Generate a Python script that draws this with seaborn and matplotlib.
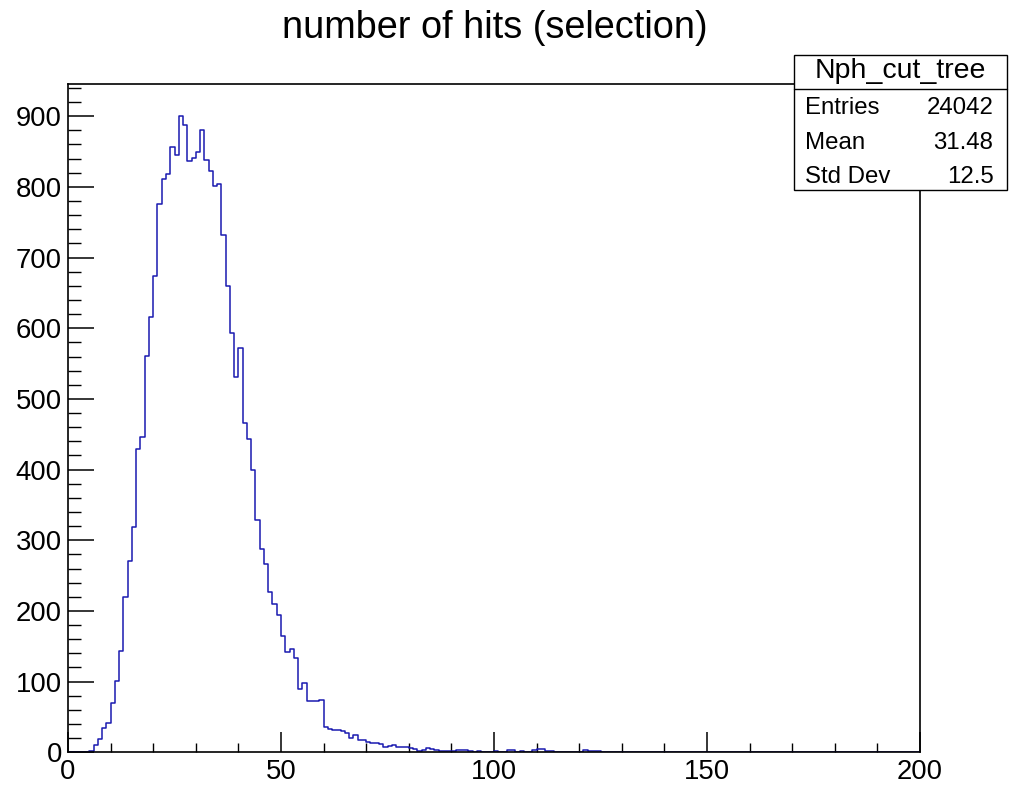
import numpy as np
import matplotlib
matplotlib.use("Agg")
import matplotlib.pyplot as plt
import seaborn as sns
from matplotlib.ticker import MultipleLocator
from matplotlib.patches import Rectangle
from matplotlib.lines import Line2D

# ---- data ----
bin_edges = list(range(0, 201))
counts = [
    0, 0, 0, 0, 0, 2, 10, 19, 34, 42,
    70, 101, 143, 220, 271, 319, 429, 446, 561, 616,
    674, 776, 811, 818, 857, 845, 901, 887, 836, 841,
    850, 880, 838, 823, 801, 804, 732, 660, 593, 531,
    572, 466, 444, 400, 328, 287, 267, 227, 210, 194,
    164, 142, 146, 134, 90, 98, 73, 72, 73, 74,
    36, 33, 31, 32, 30, 28, 20, 25, 18, 17,
    15, 13, 13, 12, 8, 9, 11, 8, 7, 7,
    6, 5, 2, 3, 6, 4, 3, 2, 2, 2,
    2, 3, 3, 3, 2, 1, 2, 1, 1, 1,
    2, 1, 1, 3, 3, 1, 2, 1, 1, 3,
    4, 4, 2, 2, 1, 0, 1, 1, 1, 1,
    0, 3, 2, 2, 2, 0, 0, 1, 1, 1,
    0, 1, 1, 1, 1, 1, 1, 0, 0, 1,
    1, 1, 0, 0, 0, 0, 1, 0, 0, 0,
    0, 1, 1, 1, 1, 1, 1, 1, 1, 1,
    0, 0, 0, 0, 0, 1, 0, 0, 1, 0,
    0, 0, 0, 0, 0, 0, 0, 0, 1, 1,
    0, 1, 1, 0, 1, 1, 1, 0, 0, 0,
    0, 0, 0, 0, 0, 0, 0, 0, 0, 0,
]
bin_centers = [e + 0.5 for e in bin_edges[:-1]]

title = "number of hits (selection)"
stats_name = "Nph_cut_tree"
stats_labels = ["Entries", "Mean", "Std Dev"]
stats_values = ["24042", "31.48", "12.5"]

# ---- style ----
sns.set_theme(style="ticks")
plt.rcParams['font.family'] = ['Liberation Sans', 'DejaVu Sans']
plt.rcParams['axes.edgecolor'] = 'black'
plt.rcParams['xtick.color'] = 'black'
plt.rcParams['ytick.color'] = 'black'
plt.rcParams['text.color'] = 'black'

W, H = 1029, 785
fig = plt.figure(figsize=(W / 100, H / 100), dpi=100)
fig.patch.set_facecolor('white')

x0, x1, y0, y1 = 68, 920, 84, 752.3
ax = fig.add_axes([x0 / W, 1 - y1 / H, (x1 - x0) / W, (y1 - y0) / H])
ax.set_facecolor('white')

sns.histplot(x=bin_centers, weights=counts, bins=bin_edges, element="step",
             fill=False, color="#1a1ab0", linewidth=1.1, ax=ax)

ax.set_xlim(0, 200)
ax.set_ylim(0, 945.6)
ax.set_xlabel("")
ax.set_ylabel("")

ax.xaxis.set_major_locator(MultipleLocator(50))
ax.xaxis.set_minor_locator(MultipleLocator(10))
ax.yaxis.set_major_locator(MultipleLocator(100))
ax.yaxis.set_minor_locator(MultipleLocator(20))

ax.tick_params(axis='x', which='both', direction='in', bottom=True, top=False,
               labelsize=19.8, pad=5.0)
ax.tick_params(axis='x', which='major', length=14.4, width=1.1)
ax.tick_params(axis='x', which='minor', length=6.8, width=1.0)
ax.tick_params(axis='y', which='both', direction='in', left=True, right=False,
               labelsize=19.8, pad=4.5)
ax.tick_params(axis='y', which='major', length=18.5, width=1.1)
ax.tick_params(axis='y', which='minor', length=9.2, width=1.0)

for s in ax.spines.values():
    s.set_visible(True)
    s.set_color('black')
    s.set_linewidth(1.2)

# ---- title ----
fig.text(495 / W, 1 - 38 / H, title, ha='center', va='baseline', fontsize=27.3)

# ---- stats box ----
bx0, bx1, by0, by1 = 794, 1007, 55, 190
fig.add_artist(Rectangle((bx0 / W, 1 - by1 / H), (bx1 - bx0) / W, (by1 - by0) / H,
                         transform=fig.transFigure, facecolor='white',
                         edgecolor='black', linewidth=1.0, zorder=5))
fig.add_artist(Line2D([bx0 / W, bx1 / W], [1 - 88.5 / H, 1 - 88.5 / H],
                      transform=fig.transFigure, color='black', linewidth=1.0,
                      zorder=6))
fig.text((bx0 + bx1) / 2 / W, 1 - 78 / H, stats_name, ha='center',
         va='baseline', fontsize=20.5, zorder=7)
row_baselines = [114, 149, 183]
for lab, val, yb in zip(stats_labels, stats_values, row_baselines):
    fig.text(805 / W, 1 - yb / H, lab, ha='left', va='baseline', fontsize=17.3,
             zorder=7)
    fig.text(993.5 / W, 1 - yb / H, val, ha='right', va='baseline', fontsize=17.3,
             zorder=7)

fig.savefig("out.png", dpi=100, facecolor='white')
